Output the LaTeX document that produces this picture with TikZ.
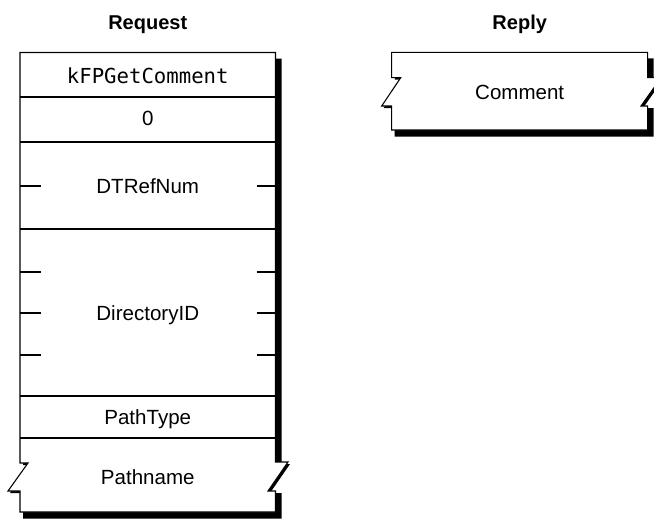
\documentclass[tikz,border=0pt]{standalone}
\usepackage{fontspec}
\setmainfont{Liberation Sans}
\setmonofont{DejaVu Sans Mono}
\definecolor{Ink}{HTML}{000000}
\definecolor{Paper}{HTML}{FFFFFF}
\tikzset{
  block/.style={draw=Ink,fill=Paper,line width=0.8pt,line join=miter},
  shade/.style={fill=Ink,draw=none},
  divider/.style={draw=Ink,line width=0.8pt},
  tick/.style={draw=Ink,line width=0.8pt},
  field/.style={anchor=base,inner sep=0pt,font=\fontsize{15.4}{18}\selectfont},
  code/.style={anchor=base,inner sep=0pt,font=\ttfamily\fontsize{15.5}{18}\selectfont},
  heading/.style={anchor=base,inner sep=0pt,font=\bfseries\fontsize{15}{18}\selectfont}
}

\begin{document}
\begin{tikzpicture}[x=0.75pt,y=-0.75pt]
  \useasboundingbox (0,0) rectangle (654,519);
  % shadows
  \path[shade] (26,58.5) -- (281.5,58.5) -- (281.5,464) -- (290,464) -- (270,493) -- (281.5,493)
    -- (281.5,518.5) -- (23,518.5) -- (23,493) -- (10,493) -- (30,465) -- (23,465) -- cycle;
  \path[shade] (397.7,58.3) -- (653.7,58.3) -- (653.7,79.7) -- (663,79.7) -- (643,108) -- (653.7,108)
    -- (653.7,136.5) -- (394.7,136.5) -- (394.7,108) -- (383.7,108) -- (402.7,79.7) -- (394.7,79.7) -- cycle;
  % request block
  \path[block] (20,52.5) -- (275.5,52.5) -- (275.5,462) -- (288,462) -- (268,491)
    -- (275.5,491) -- (275.5,512) -- (20,512) -- (20,491) -- (8,491) -- (28,463) -- (20,463) -- cycle;
  % reply block
  \path[block] (391.7,52.3) -- (647.7,52.3) -- (647.7,77.7) -- (661,77.7) -- (641,106)
    -- (647.7,106) -- (647.7,130) -- (391.7,130) -- (391.7,106) -- (381.7,106) -- (400.7,77.7) -- (391.7,77.7) -- cycle;
  % field dividers
  \foreach \y in {97,142,229,396,438}
    \draw[divider] (20,\y) -- (275.5,\y);
  % byte ticks
  \foreach \y in {186,272,313,355} {
    \draw[tick] (20,\y) -- (40.7,\y);
    \draw[tick] (256.7,\y) -- (275.5,\y);
  }
  \node[heading] (reqtitle) at (147.75,29.5) {Request};
  \node[heading] (reptitle) at (519.7,29.5) {Reply};
  \node[code] (cmd) at (147.75,83) {kFPGetComment};
  \node[field] (pad) at (147.75,125) {0};
  \node[field] (dtref) at (147.75,193) {DTRefNum};
  \node[field] (dirid) at (147.75,320.5) {DirectoryID};
  \node[field] (ptype) at (147.75,424) {PathType};
  \node[field] (pname) at (147.75,484) {Pathname};
  \node[field] (comment) at (519.7,99) {Comment};
\end{tikzpicture}
\end{document}
